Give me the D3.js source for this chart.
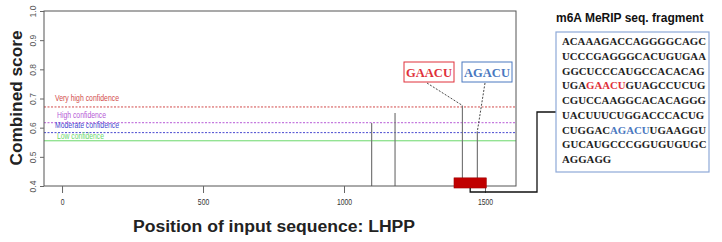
<!DOCTYPE html>
<html lang="en">
<head>
<meta charset="UTF-8"/>
<title>m6A sites LHPP</title>
<script src="https://d3js.org/d3.v7.min.js"></script>
<style>
    body { margin: 0; background: #fff; }
    .narrow { font-family: "Liberation Sans Narrow", "Liberation Sans", Arial, sans-serif; }
    .bold { font-family: "Liberation Sans", Arial, sans-serif; font-weight: bold; }
    .serif { font-family: "Liberation Serif", "Times New Roman", serif; font-weight: bold; }
</style>
</head>
<body>
<script>
    // axis ticks
    const xTicks = [0, 500, 1000, 1500];
    const yTicks = [0.4, 0.5, 0.6, 0.7, 0.8, 0.9, 1.0];

    // confidence thresholds
    const thresholdNames = ["Very high confidence", "High confidence", "Moderate confidence", "Low confidence"];
    const thresholdValues = [0.671, 0.617, 0.583, 0.555];
    const thresholdColors = ["#d24a4a", "#b65ad6", "#4646cf", "#6ad86a"];
    const thresholdDash = ["2,1.5", "2,1.5", "2,1.5", null];

    // predicted sites
    const sitePositions = [1098, 1181, 1420, 1473];
    const siteScores = [0.616, 0.650, 0.676, 0.588];

    // motif callouts (index into sites)
    const motifNames = ["GAACU", "AGACU"];
    const motifSite = [2, 3];
    const motifColors = ["#e0303a", "#4a78c0"];

    // MeRIP fragment span on the sequence
    const fragmentStart = 1390;
    const fragmentEnd = 1505;

    const fragmentLines = [
        "ACAAAGACCAGGGGCAGC",
        "UCCCGAGGGCACUGUGAA",
        "GGCUCCCAUGCCACACAG",
        "UGA|GAACU|GUAGCCUCUG",
        "CGUCCAAGGCACACAGGG",
        "UACUUUCUGGACCCACUG",
        "CUGGAC|AGACU|UGAAGGU",
        "GUCAUGCCCGGUGUGUGC",
        "AGGAGG"
    ];

    const width = 722;
    const height = 242;
    const plot = {left: 44, right: 516, top: 11, bottom: 186};

    const svg = d3.select("body").append("svg")
        .attr("width", width)
        .attr("height", height);

    const x = d3.scaleLinear().domain([-64, 1610]).range([plot.left, plot.right]);
    const y = d3.scaleLinear().domain([0.4, 1.0]).range([plot.bottom, plot.top]);

    // threshold lines
    thresholdValues.forEach((v, i) => {
        svg.append("line")
            .attr("x1", plot.left).attr("x2", plot.right)
            .attr("y1", y(v)).attr("y2", y(v))
            .attr("stroke", thresholdColors[i])
            .attr("stroke-width", 1)
            .attr("stroke-dasharray", thresholdDash[i]);
    });

    // labels are squeezed like the narrow R device font
    const labelOffsets = [-5.5, -4.5, -4.3, -2];
    const labelLengths = [64, 49, 64, 47];
    thresholdNames.forEach((name, i) => {
        svg.append("text")
            .attr("class", "narrow")
            .attr("x", i % 2 === 1 ? 57 : 55)
            .attr("y", y(thresholdValues[i]) + labelOffsets[i])
            .attr("textLength", labelLengths[i])
            .attr("lengthAdjust", "spacingAndGlyphs")
            .style("font-size", "8.5px")
            .style("fill", thresholdColors[i])
            .text(name);
    });

    // spikes
    sitePositions.forEach((p, i) => {
        svg.append("line")
            .attr("x1", x(p)).attr("x2", x(p))
            .attr("y1", y(0.4)).attr("y2", y(siteScores[i]))
            .attr("stroke", "#777")
            .attr("stroke-width", 1.2);
    });

    // plot box
    svg.append("rect")
        .attr("x", plot.left).attr("y", plot.top)
        .attr("width", plot.right - plot.left)
        .attr("height", plot.bottom - plot.top)
        .attr("fill", "none")
        .attr("stroke", "#555")
        .attr("stroke-width", 1);

    // X axis
    const xAxis = svg.append("g")
        .attr("transform", `translate(0, ${plot.bottom})`)
        .call(d3.axisBottom(x).tickValues(xTicks).tickSize(7).tickPadding(6).tickFormat(d3.format("d")));
    xAxis.select(".domain").remove();
    xAxis.selectAll("line").attr("stroke", "#666");
    xAxis.selectAll("text")
        .attr("class", "narrow")
        .attr("textLength", d => String(d).length * 3.8)
        .attr("lengthAdjust", "spacingAndGlyphs")
        .style("font-size", "8.5px")
        .style("fill", "#333");

    // Y axis
    const yAxis = svg.append("g")
        .attr("transform", `translate(${plot.left}, 0)`)
        .call(d3.axisLeft(y).tickValues(yTicks).tickSize(4).tickFormat(d3.format(".1f")));
    yAxis.select(".domain").remove();
    yAxis.selectAll("line").attr("stroke", "#666");
    yAxis.selectAll("text")
        .attr("class", "narrow")
        .attr("x", null).attr("dy", null)
        .attr("transform", "translate(-8, 0) rotate(-90)")
        .attr("text-anchor", "middle")
        .attr("dominant-baseline", "auto")
        .style("font-size", "8.5px")
        .style("fill", "#555");

    // axis titles
    svg.append("text")
        .attr("class", "bold")
        .attr("x", 274).attr("y", 232)
        .attr("text-anchor", "middle")
        .attr("textLength", 282)
        .attr("lengthAdjust", "spacingAndGlyphs")
        .style("font-size", "16px")
        .style("fill", "#222")
        .text("Position of input sequence: LHPP");

    svg.append("text")
        .attr("class", "bold")
        .attr("transform", "translate(22, 98) rotate(-90)")
        .attr("text-anchor", "middle")
        .attr("textLength", 135)
        .attr("lengthAdjust", "spacingAndGlyphs")
        .style("font-size", "16px")
        .style("fill", "#222")
        .text("Combined score");

    // motif callouts
    const boxCenters = [429, 487];
    motifNames.forEach((m, i) => {
        const cx = boxCenters[i];
        const s = motifSite[i];
        svg.append("line")
            .attr("x1", cx - 2).attr("y1", 83)
            .attr("x2", x(sitePositions[s])).attr("y2", y(siteScores[s]))
            .attr("stroke", "#333")
            .attr("stroke-width", 0.9)
            .attr("stroke-dasharray", "2,1.5");
        svg.append("rect")
            .attr("x", cx - 25).attr("y", 62)
            .attr("width", 50).attr("height", 20)
            .attr("fill", "#fff")
            .attr("stroke", motifColors[i])
            .attr("stroke-width", 1);
        svg.append("text")
            .attr("class", "serif")
            .attr("x", cx).attr("y", 76.5)
            .attr("text-anchor", "middle")
            .style("font-size", "12.5px")
            .style("fill", motifColors[i])
            .text(m);
    });

    // fragment bar
    svg.append("rect")
        .attr("x", x(fragmentStart))
        .attr("y", y(0.428))
        .attr("width", x(fragmentEnd) - x(fragmentStart))
        .attr("height", y(0.393) - y(0.428))
        .attr("fill", "#c00000")
        .attr("stroke", "#900")
        .attr("stroke-width", 0.5);

    // connector to fragment box
    const boxLeft = 556, boxTop = 32, boxRight = 709, boxBottom = 172;
    const mid = (fragmentStart + fragmentEnd) / 2;
    svg.append("path")
        .attr("d", `M${x(mid)},${y(0.393)} V192 H537 V112 H${boxLeft}`)
        .attr("fill", "none")
        .attr("stroke", "#111")
        .attr("stroke-width", 1.3);

    // fragment panel
    svg.append("text")
        .attr("class", "bold")
        .attr("x", boxLeft).attr("y", 22)
        .style("font-size", "12px")
        .style("fill", "#111")
        .text("m6A MeRIP seq. fragment");

    svg.append("rect")
        .attr("x", boxLeft).attr("y", boxTop)
        .attr("width", boxRight - boxLeft).attr("height", boxBottom - boxTop)
        .attr("fill", "#fff")
        .attr("stroke", "#8ea9d8")
        .attr("stroke-width", 1.2);

    const seqColors = {GAACU: motifColors[0], AGACU: motifColors[1]};
    fragmentLines.forEach((line, i) => {
        const t = svg.append("text")
            .attr("class", "serif")
            .attr("x", 562)
            .attr("y", 45 + i * 14.75)
            .style("font-size", "10.8px")
            .style("fill", "#222");
        line.split("|").forEach(part => {
            t.append("tspan")
                .style("fill", seqColors[part] || "#222")
                .text(part);
        });
    });
</script>
</body>
</html>
